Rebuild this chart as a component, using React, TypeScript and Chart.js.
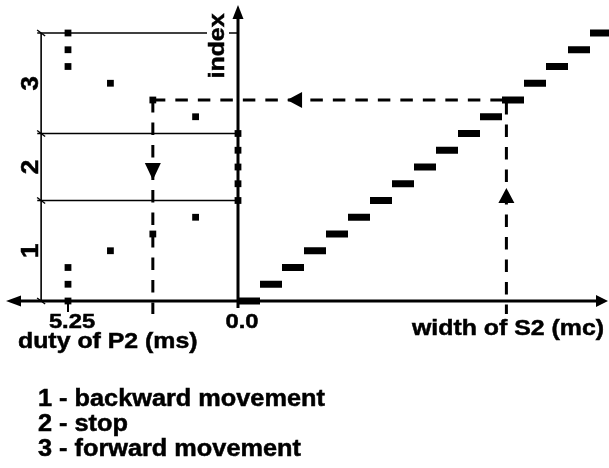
import React, { useEffect, useRef } from 'react';
import { Chart, registerables } from 'chart.js';

Chart.register(...registerables);

// ---- data ----
const indexLevels = [0, 1, 2, 3, 4, 5, 6, 7, 8, 9, 10, 11, 12, 13, 14, 15, 16];
const widthOfS2 = [0.5, 1.5, 2.5, 3.5, 4.5, 5.5, 6.5, 7.5, 8.5, 9.5, 10.5, 11.5, 12.5, 13.5, 14.5, 15.5, 16.5];
const dutyOfP2 = [5.25, 5.25, 5.25, 3.94, 2.63, 1.31, 0, 0, 0, 0, 0, 1.31, 2.63, 3.94, 5.25, 5.25, 5.25];
const regionBounds = [0, 6, 10, 16];
const regionLabels = ['1', '2', '3'];
const dutyTickValues = [5.25, 0];
const dutyTickLabels = ['5.25', '0.0'];
const selectedIndex = 12;
const selectedWidth = 12.2;
const selectedDuty = 2.63;
const dutyTitle = 'duty of P2 (ms)';
const widthTitle = 'width of S2 (mc)';
const indexTitle = 'index';
const legendLines = ['1 - backward movement', '2 - stop', '3 - forward movement'];

const FONT = (s: number) => `bold ${s}px "Liberation Sans", Arial, sans-serif`;

function drawText(
  ctx: CanvasRenderingContext2D,
  str: string,
  x: number,
  y: number,
  opts: { size?: number; sx?: number; align?: CanvasTextAlign; rotate?: number } = {}
) {
  const { size = 22, sx = 1.13, align = 'left', rotate = 0 } = opts;
  ctx.save();
  ctx.translate(x, y);
  if (rotate) ctx.rotate(rotate);
  ctx.scale(sx, 1);
  ctx.font = FONT(size);
  ctx.textAlign = align;
  ctx.textBaseline = 'alphabetic';
  ctx.fillStyle = '#000';
  ctx.strokeStyle = '#000';
  ctx.lineWidth = 0.5;
  ctx.fillText(str, 0, 0);
  ctx.strokeText(str, 0, 0);
  ctx.restore();
}

function arrow(ctx: CanvasRenderingContext2D, tx: number, ty: number, dir: 'up' | 'down' | 'left' | 'right', len: number, half: number) {
  ctx.beginPath();
  ctx.moveTo(tx, ty);
  if (dir === 'up') { ctx.lineTo(tx - half, ty + len); ctx.lineTo(tx + half, ty + len); }
  if (dir === 'down') { ctx.lineTo(tx - half, ty - len); ctx.lineTo(tx + half, ty - len); }
  if (dir === 'left') { ctx.lineTo(tx + len, ty - half); ctx.lineTo(tx + len, ty + half); }
  if (dir === 'right') { ctx.lineTo(tx - len, ty - half); ctx.lineTo(tx - len, ty + half); }
  ctx.closePath();
  ctx.fillStyle = '#000';
  ctx.fill();
}

function line(ctx: CanvasRenderingContext2D, x1: number, y1: number, x2: number, y2: number, w: number, dash: number[] = []) {
  ctx.save();
  ctx.beginPath();
  ctx.setLineDash(dash);
  ctx.lineWidth = w;
  ctx.strokeStyle = '#000';
  ctx.moveTo(x1, y1);
  ctx.lineTo(x2, y2);
  ctx.stroke();
  ctx.restore();
}

const diagramPlugin = {
  id: 'diagram',
  beforeDatasetsDraw(chart: any) {
    const ctx: CanvasRenderingContext2D = chart.ctx;
    const { xd, xw, y } = chart.scales;
    const area = chart.chartArea;
    const X0 = xw.getPixelForValue(0);
    const Y0 = y.getPixelForValue(0);
    const leftX = xd.getPixelForValue(6.2);
    const vX = xd.getPixelForValue(6.08);

    // thin region lines
    regionBounds.forEach((b) => {
      const yy = y.getPixelForValue(b);
      if (b !== 0) line(ctx, leftX, yy, X0, yy, 1.6);
      line(ctx, vX - 4, yy - 3, vX + 4, yy + 3, 1.4);
    });
    line(ctx, vX, y.getPixelForValue(0), vX, y.getPixelForValue(16), 1.6);

    // index title (with white background)
    const tY = y.getPixelForValue(16);
    ctx.fillStyle = '#fff';
    ctx.fillRect(X0 - 31, area.top + 9, 22, 72);
    drawText(ctx, indexTitle, X0 - 14, tY + 13, { align: 'center', rotate: -Math.PI / 2 });

    // region labels
    for (let i = 0; i < regionLabels.length; i++) {
      const c = (y.getPixelForValue(regionBounds[i]) + y.getPixelForValue(regionBounds[i + 1])) / 2;
      drawText(ctx, regionLabels[i], 38, c, { align: 'center', rotate: -Math.PI / 2, size: 23 });
    }

    // dashed guides
    const sy = y.getPixelForValue(selectedIndex);
    const dX = xd.getPixelForValue(selectedDuty);
    const wX = xw.getPixelForValue(selectedWidth);
    const bottom = y.getPixelForValue(-0.78);
    line(ctx, dX, sy, wX, sy, 3, [12.5, 10]);
    line(ctx, dX, sy, dX, bottom, 3, [12.5, 10]);
    line(ctx, wX, sy + 2, wX, bottom, 3, [12.5, 10]);

    // axes
    line(ctx, area.left + 12, Y0, area.right - 6, Y0, 3);
    line(ctx, X0, Y0 + 7, X0, area.top + 12, 3);
    // tick at 5.25
    const t525 = xd.getPixelForValue(dutyTickValues[0]);
    line(ctx, t525, Y0, t525, Y0 + 11, 2);
  },
  afterDatasetsDraw(chart: any) {
    const ctx: CanvasRenderingContext2D = chart.ctx;
    const { xd, xw, y } = chart.scales;
    const area = chart.chartArea;
    const X0 = xw.getPixelForValue(0);
    const Y0 = y.getPixelForValue(0);

    arrow(ctx, X0, area.top + 5, 'up', 14, 5.5);
    arrow(ctx, area.left + 6, Y0, 'left', 15, 5.5);
    arrow(ctx, area.right - 1, Y0, 'right', 12, 6);

    const sy = y.getPixelForValue(selectedIndex);
    const dX = xd.getPixelForValue(selectedDuty);
    const wX = xw.getPixelForValue(selectedWidth);
    arrow(ctx, dX, y.getPixelForValue(7.22), 'down', 17, 8);
    arrow(ctx, wX, y.getPixelForValue(6.75), 'up', 15, 8);
    arrow(ctx, xw.getPixelForValue(2.23), sy, 'left', 15, 8);

    // tick labels
    dutyTickValues.forEach((v, i) => {
      drawText(ctx, dutyTickLabels[i], xd.getPixelForValue(v) + 4, Y0 + 27, { align: 'center', size: 21 });
    });
    drawText(ctx, dutyTitle, 18, Y0 + 47, { size: 22 });
    drawText(ctx, widthTitle, area.right - 5, Y0 + 34, { size: 22, align: 'right' });

    legendLines.forEach((t, i) => {
      drawText(ctx, t, 38, 406 + i * 25, { size: 23, sx: 1.1 });
    });
  },
};

export default function App() {
  const ref = useRef<HTMLCanvasElement | null>(null);
  useEffect(() => {
    if (!ref.current) return;
    const chart = new Chart(ref.current, {
      type: 'scatter',
      data: {
        datasets: [
          {
            label: 'width of S2',
            data: widthOfS2.map((w, i) => ({ x: w, y: indexLevels[i] })),
            xAxisID: 'xw',
            yAxisID: 'y',
            showLine: false,
            pointStyle: 'line',
            pointRadius: 11,
            pointBorderWidth: 7,
            pointBorderColor: '#000',
            pointBackgroundColor: '#000',
            clip: false as any,
          },
          {
            label: 'duty of P2',
            data: dutyOfP2.map((d, i) => ({ x: d, y: indexLevels[i] })),
            xAxisID: 'xd',
            yAxisID: 'y',
            showLine: false,
            pointStyle: 'rect',
            pointRadius: 4.8,
            pointBorderWidth: 0,
            pointBackgroundColor: '#000',
            clip: false as any,
          },
        ],
      },
      options: {
        animation: false,
        responsive: false,
        events: [],
        layout: { padding: 0, autoPadding: false },
        plugins: { legend: { display: false }, tooltip: { enabled: false } },
        scales: {
          xw: { type: 'linear', display: false, min: -238 / 22, max: 371 / 22 },
          xd: { type: 'linear', display: false, reverse: true, min: -371 / 32.38, max: 238 / 32.38 },
          y: { type: 'linear', display: false, min: -167 / 16.75, max: 301 / 16.75 },
        },
      },
      plugins: [diagramPlugin],
    });
    return () => chart.destroy();
  }, []);
  return (
    <div style={{ position: 'fixed', left: 0, top: 0, width: 609, height: 468, background: '#fff' }}>
      <canvas ref={ref} width={609} height={468} style={{ display: 'block' }} />
    </div>
  );
}
